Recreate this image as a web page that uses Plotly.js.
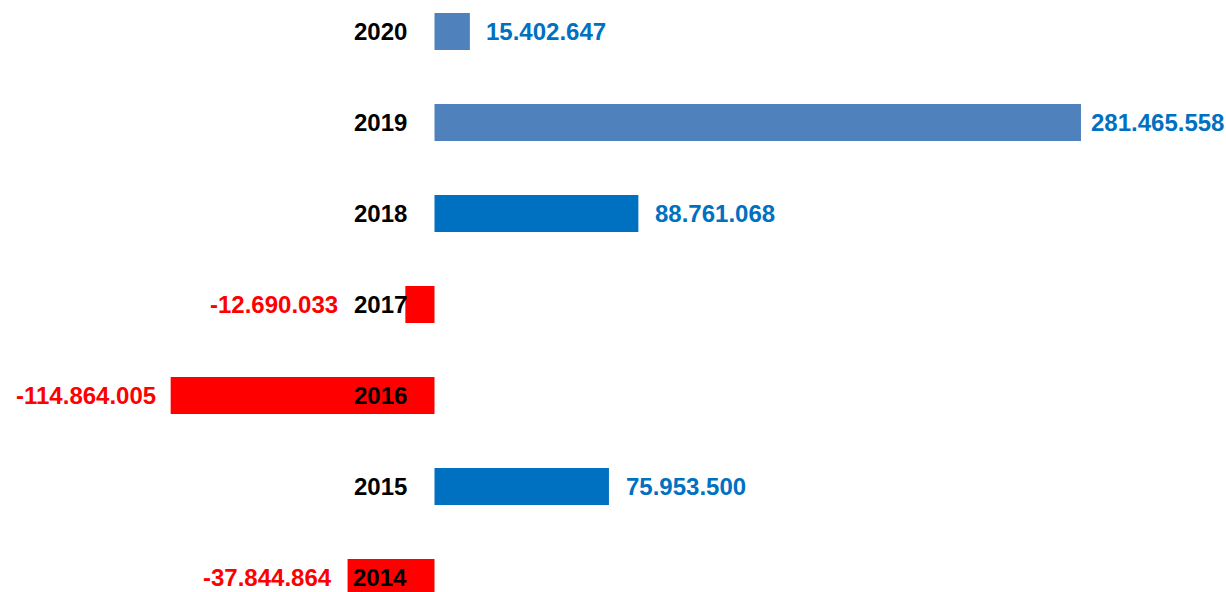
<!DOCTYPE html>
<html>
<head>
<meta charset="utf-8">
<script src="https://cdn.plot.ly/plotly-3.0.1.min.js"></script>
<style>html,body{margin:0;padding:0;background:#fff;}#chart{width:1226px;height:592px;}</style>
</head>
<body>
<div id="chart"></div>
<script>
// ---- data ----
const years = ['2014', '2015', '2016', '2017', '2018', '2019', '2020'];
const values = [-37844864, 75953500, -114864005, -12690033, 88761068, 281465558, 15402647];
const valueLabels = ['-37.844.864', '75.953.500', '-114.864.005', '-12.690.033', '88.761.068', '281.465.558', '15.402.647'];

// ---- styles ----
const barColors = ['#FF0000', '#0070C0', '#FF0000', '#FF0000', '#0070C0', '#4F81BD', '#4F81BD'];
const labelShift = [-14, 15, -13, -65, 15, 8, 14];
const FONT = 'Liberation Sans, Arial, sans-serif';
const FS = 24;

const trace = {
  type: 'bar',
  orientation: 'h',
  y: years,
  x: values,
  marker: {color: barColors, line: {width: 0}},
  hoverinfo: 'none'
};

const annotations = [];
years.forEach((yr, i) => {
  const v = values[i];
  annotations.push({
    x: v, y: i, xref: 'x', yref: 'y',
    text: '<b>' + valueLabels[i] + '</b>',
    showarrow: false,
    xanchor: v >= 0 ? 'left' : 'right',
    yanchor: 'middle',
    xshift: labelShift[i],
    font: {family: FONT, size: FS, color: v >= 0 ? '#0070C0' : '#FF0000'}
  });
  annotations.push({
    x: 0, y: i, xref: 'x', yref: 'y',
    text: '<b>' + yr + '</b>',
    showarrow: false,
    xanchor: 'right',
    yanchor: 'middle',
    xshift: -26,
    font: {family: FONT, size: FS, color: '#000000'}
  });
});

const layout = {
  width: 1226, height: 592,
  margin: {l: 0, r: 0, t: 0, b: 0},
  paper_bgcolor: '#ffffff', plot_bgcolor: '#ffffff',
  showlegend: false,
  bargap: 0.593,
  xaxis: {range: [-189.17e6, 344.6e6], showgrid: false, zeroline: false, showticklabels: false, showline: false, ticks: '', fixedrange: true},
  yaxis: {type: 'category', range: [-0.159, 6.346], showgrid: false, zeroline: false, showticklabels: false, showline: false, ticks: '', fixedrange: true},
  annotations: annotations
};

Plotly.newPlot('chart', [trace], layout, {displayModeBar: false, staticPlot: true});
</script>
</body>
</html>
